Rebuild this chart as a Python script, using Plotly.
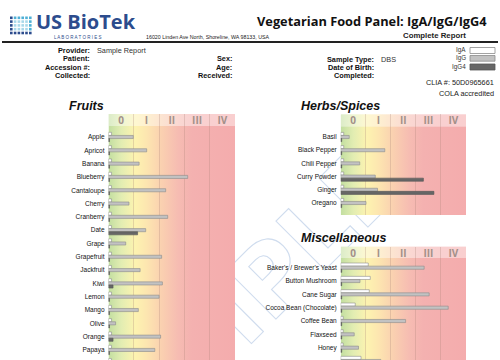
import base64
import plotly.graph_objects as go

W, H = 500, 360

# ---------------- data ----------------
classes = ["0", "I", "II", "III", "IV"]
class_pos = [0.5, 1.5, 2.5, 3.5, 4.5]

fruits = ["Apple", "Apricot", "Banana", "Blueberry", "Cantaloupe", "Cherry",
          "Cranberry", "Date", "Grape", "Grapefruit", "Jackfruit", "Kiwi",
          "Lemon", "Mango", "Olive", "Orange", "Papaya", "Peach"]
fruits_iga = [0.12, 0.12, 0.12, 0.12, 0.12, 0.12, 0.12, 0.12, 0.12, 0.12,
              0.12, 0.12, 0.12, 0.12, 0.12, 0.12, 0.12, 0.12]
fruits_igg = [0.98, 1.51, 1.21, 3.13, 2.26, 0.81, 2.34, 1.47, 0.68, 2.10,
              1.25, 2.13, 2.00, 1.18, 0.28, 2.06, 1.83, 1.40]
fruits_igg4 = [0.04, 0.04, 0.04, 0.04, 0.04, 0.04, 0.04, 1.15, 0.04, 0.04,
               0.04, 0.18, 0.04, 0.04, 0.04, 0.18, 0.04, 0.04]

herbs = ["Basil", "Black Pepper", "Chili Pepper", "Curry Powder", "Ginger", "Oregano"]
herbs_iga = [0.12, 0.12, 0.12, 0.12, 0.12, 0.12]
herbs_igg = [0.34, 1.76, 0.76, 1.38, 1.47, 1.01]
herbs_igg4 = [0.04, 0.04, 0.04, 3.30, 3.72, 0.04]

misc = ["Baker's / Brewer's Yeast", "Button Mushroom", "Cane Sugar",
        "Cocoa Bean (Chocolate)", "Coffee Bean", "Flaxseed", "Honey", "Sesame Seed"]
misc_iga = [1.10, 1.18, 1.14, 0.58, 0.10, 0.10, 0.10, 0.81]
misc_igg = [3.33, 0.77, 3.53, 4.29, 2.59, 0.54, 0.71, 1.60]
misc_igg4 = [0.04, 0.04, 0.04, 0.04, 0.04, 0.04, 0.04, 0.04]

series_names = ["IgA", "IgG", "IgG4"]
series_fill = ["#ffffff", "#c2c2c2", "#666666"]
series_line = ["#8c8c8c", "#8c8c8c", "#555555"]

title = "Vegetarian Food Panel: IgA/IgG/IgG4"
subtitle = "Complete Report"
address = "16020 Linden Ave North, Shoreline, WA 98133, USA"

LIB = "Liberation Sans, Arial, sans-serif"


def px(x):
    return x / W


def py(y):
    return 1 - y / H


panels = [
    dict(name="Fruits", cats=fruits, vals=[fruits_iga, fruits_igg, fruits_igg4],
         l=108.5, r=235.0, t=114.0, b=360.0, hb=126.0, r0=137.0, pitch=13.31,
         title_x=68, title_y=105.5),
    dict(name="Herbs/Spices", cats=herbs, vals=[herbs_iga, herbs_igg, herbs_igg4],
         l=340.7, r=466.0, t=114.3, b=215.0, hb=126.7, r0=137.0, pitch=13.2,
         title_x=300, title_y=105.5),
    dict(name="Miscellaneous", cats=misc, vals=[misc_iga, misc_igg, misc_igg4],
         l=340.7, r=466.0, t=246.5, b=360.0, hb=258.0, r0=267.7, pitch=13.33,
         title_x=300, title_y=237.5),
]

fig = go.Figure()
layout = dict(
    width=W, height=H, margin=dict(l=0, r=0, t=0, b=0),
    paper_bgcolor="white", plot_bgcolor="rgba(0,0,0,0)",
    showlegend=False, barmode="group", bargap=0.3, bargroupgap=0.0,
    font=dict(family="Open Sans, DejaVu Sans, sans-serif", color="#111"),
)

images = []
annotations = []
shapes = []

wm_svg = (
    '<svg xmlns="http://www.w3.org/2000/svg" width="500" height="360" viewBox="0 0 500 360">'
    '<text x="255" y="340" font-family="DejaVu Sans" font-weight="bold" font-size="95" '
    'fill="none" stroke="#cfdcee" stroke-width="1.1" text-anchor="middle" '
    'transform="rotate(-45 255 340)">SAMPLE</text></svg>'
)
images.append(dict(source="data:image/svg+xml;base64," + base64.b64encode(wm_svg.encode()).decode(),
                   xref="paper", yref="paper", x=0, y=1, sizex=1, sizey=1,
                   xanchor="left", yanchor="top", sizing="stretch", layer="below"))

grad_stops = [(0.0, "#c2dea0"), (0.10, "#e2edb2"), (0.21, "#fdf3b0"), (0.30, "#fde6b0"),
              (0.42, "#fad0b0"), (0.55, "#f6bcb2"), (0.66, "#f4b1b0"), (1.0, "#f4acad")]

for i, p in enumerate(panels):
    k = "" if i == 0 else str(i + 1)
    xa, ya = "x" + k, "y" + k
    n = len(p["cats"])
    top_val = -(p["r0"] - p["t"]) / p["pitch"]
    bot_val = (p["b"] - p["r0"]) / p["pitch"]

    for s in range(3):
        fig.add_trace(go.Bar(
            y=list(range(n)), x=p["vals"][s], orientation="h", name=series_names[s],
            marker=dict(color=series_fill[s], line=dict(color=series_line[s], width=0.6)),
            xaxis=xa, yaxis=ya, hoverinfo="skip", offsetgroup=str(s)))

    layout["xaxis" + k] = dict(
        domain=[px(p["l"]), px(p["r"])], range=[0, 5], anchor=ya, side="top",
        tickmode="array", tickvals=class_pos, ticktext=classes,
        ticklabelposition="inside", ticks="", showgrid=False, zeroline=False,
        showline=False, fixedrange=True,
        tickfont=dict(size=10, color="#a39089", weight="bold"),
        minor=dict(tick0=0, dtick=1, showgrid=True, gridcolor="rgba(170,130,120,0.28)",
                   gridwidth=1, ticks=""),
    )
    layout["yaxis" + k] = dict(
        domain=[max(0.0, py(p["b"])), py(p["t"])], range=[bot_val, top_val], anchor=xa,
        tickmode="array", tickvals=list(range(n)), ticktext=p["cats"],
        ticks="", showgrid=False, zeroline=False, showline=False, fixedrange=True,
        tickfont=dict(size=6.5, color="#111", family=LIB),
        ticklabelstandoff=3,
    )

    pw, ph = p["r"] - p["l"], p["b"] - p["t"]
    hh = p["hb"] - p["t"]
    stops = "".join('<stop offset="%g" stop-color="%s"/>' % (o, c) for o, c in grad_stops)
    svg = (
        '<svg xmlns="http://www.w3.org/2000/svg" width="%g" height="%g" viewBox="0 0 %g %g" '
        'preserveAspectRatio="none"><defs><linearGradient id="g" x1="0" y1="0" x2="1" y2="0">%s'
        '</linearGradient></defs><rect x="0" y="0" width="%g" height="%g" fill="url(#g)"/>'
        '<rect x="0" y="0" width="%g" height="%g" fill="#ffffff" fill-opacity="0.42"/></svg>'
        % (pw, ph, pw, ph, stops, pw, ph, pw, hh)
    )
    images.append(dict(source="data:image/svg+xml;base64," + base64.b64encode(svg.encode()).decode(),
                       xref="paper", yref="paper", x=px(p["l"]), y=py(p["t"]),
                       sizex=pw / W, sizey=ph / H, xanchor="left", yanchor="top",
                       sizing="stretch", layer="below"))

    annotations.append(dict(text="<b><i>%s</i></b>" % p["name"], x=px(p["title_x"]), y=py(p["title_y"]),
                            xref="paper", yref="paper", xanchor="left", yanchor="middle",
                            showarrow=False, borderpad=0,
                            font=dict(size=12.5, color="#111", family=LIB)))


def label(text, x, y, size, anchor="left", bold=False, color="#111", family=None):
    t = "<b>%s</b>" % text if bold else text
    f = dict(size=size, color=color)
    if family:
        f["family"] = family
    annotations.append(dict(text=t, x=px(x), y=py(y), xref="paper", yref="paper",
                            xanchor=anchor, yanchor="middle", showarrow=False, font=f,
                            borderpad=0))


# header
label("US BioTek", 35, 21.5, 20, bold=True, color="#2c4c8d")
label("L A B O R A T O R I E S", 53, 37.3, 4.5, color="#2c4c8d", family=LIB)
label(address, 145, 37.5, 5.3, color="#222", family=LIB)
label(title, 488, 21, 12.8, anchor="right", bold=True, color="#111")
label(subtitle, 467, 35.5, 7.8, anchor="right", bold=True, color="#222", family=LIB)

shapes.append(dict(type="line", xref="paper", yref="paper", x0=px(2), x1=px(498),
                   y0=py(42), y1=py(42), line=dict(color="#222", width=2.2)))

for r in range(5):
    for c in range(6):
        if c == 0 or r == 4:
            col = "#2c4c8d"
        elif r == 0 or c == 5:
            col = "#4fb0d6"
        else:
            col = "#a8d8ea"
        x0, y0 = 10 + c * 3.8, 16.5 + r * 3.8
        shapes.append(dict(type="rect", xref="paper", yref="paper", x0=px(x0), x1=px(x0 + 2.6),
                           y0=py(y0), y1=py(y0 + 2.6), fillcolor=col, line=dict(width=0)))

info_left = [("Provider:", 50.5, "Sample Report"), ("Patient:", 59, ""),
             ("Accession #:", 67, ""), ("Collected:", 75.3, "")]
info_mid = [("Sex:", 59), ("Age:", 67), ("Received:", 75.3)]
info_right = [("Sample Type:", 60, "DBS"), ("Date of Birth:", 67.7, ""), ("Completed:", 75.3, "")]
for t, y, v in info_left:
    label(t, 91, y, 7.3, anchor="right", bold=True, family=LIB)
    if v:
        label(v, 96, y, 7.3, color="#333", family=LIB)
for t, y in info_mid:
    label(t, 233, y, 7.3, anchor="right", bold=True, family=LIB)
for t, y, v in info_right:
    label(t, 374.5, y, 7.3, anchor="right", bold=True, family=LIB)
    if v:
        label(v, 380, y, 7.3, color="#333", family=LIB)

for s, (yt, y0, y1) in enumerate([(50.5, 47.5, 53.5), (58.3, 55.5, 61.2), (67, 64, 70)]):
    shapes.append(dict(type="rect", xref="paper", yref="paper", x0=px(470), x1=px(495),
                       y0=py(y0), y1=py(y1), fillcolor=series_fill[s],
                       line=dict(color=series_line[s], width=0.8)))
    label(series_names[s], 467, yt, 6.3, anchor="right", color="#333", family=LIB)

label("CLIA #: 50D0965661", 495, 82.7, 7.3, anchor="right", color="#222", family=LIB)
label("COLA accredited", 495, 93.5, 7.3, anchor="right", color="#222", family=LIB)

layout["images"] = images
layout["annotations"] = annotations
layout["shapes"] = shapes
fig.update_layout(**layout)
fig.write_html("out.html", config={"displayModeBar": False},
               post_script="document.body.style.margin='0';document.body.style.overflow='hidden';")
